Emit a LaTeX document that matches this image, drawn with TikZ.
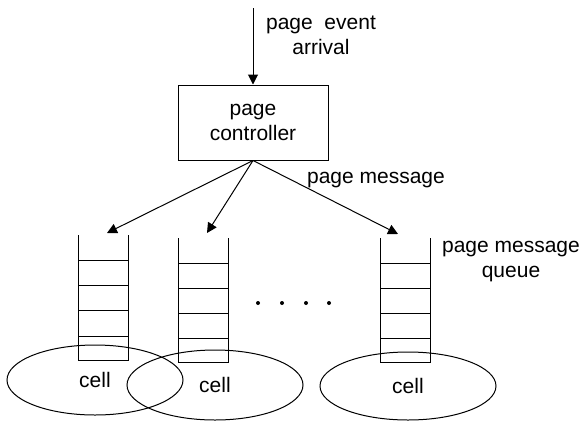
\documentclass[tikz,border=0pt]{standalone}
\usepackage{fontspec}
\setmainfont{Liberation Sans}
\usetikzlibrary{arrows.meta,positioning,shapes.geometric}
\tikzset{
  wire/.style={line width=1pt,black},
  sendarrow/.style={wire,-{Triangle[length=10pt,width=10pt]}},
  ctrlbox/.style={draw,line width=1pt,minimum width=150pt,minimum height=75pt,align=center,inner sep=0pt},
  cellzone/.style={ellipse,draw,line width=1pt,minimum width=176pt,minimum height=70pt,inner sep=0pt},
  lbl/.style={align=center,inner sep=0pt},
  dotmark/.style={circle,fill=black,inner sep=0pt,minimum size=4pt},
}
% left x, top y, list of rung y, bottom y
\newcommand{\pmqueue}[4]{%
  \draw[wire] (#1,#2) -- (#1,#4) -- (#1+50,#4) -- (#1+50,#2);
  \foreach \ly in {#3} \draw[wire] (#1,\ly) -- (#1+50,\ly);
}

\begin{document}
\begin{tikzpicture}[x=1pt,y=-1pt,font=\fontsize{21}{25}\selectfont]
\useasboundingbox (0,0) rectangle (581,421);

\node[ctrlbox] (ctrl) at (253,122.5) {page\\controller};
\coordinate (evsrc) at (253,8);
\draw[sendarrow] (evsrc) -- (ctrl.north);
\node[lbl] (evlbl) at (321,35.5) {page\ \ event\\arrival};

% queues
\pmqueue{78}{235}{260,285,310,336}{360}
\pmqueue{178}{238}{263,288,313,338}{362}
\pmqueue{380}{238}{263,288,313,338}{362}
\coordinate (qAtop) at (107,233);
\coordinate (qBtop) at (207,233);
\coordinate (qCtop) at (398,234);

\draw[sendarrow] (ctrl.south) -- (qAtop);
\draw[sendarrow] (ctrl.south) -- (qBtop);
\draw[sendarrow] (ctrl.south) -- (qCtop);
\node[lbl] (msglbl) at (376,180) {page message};
\node[lbl] (qlbl) at (511,261.5) {page message\\queue};

% the dots
\foreach \dx in {258,282,306,329}
  \node[dotmark] at (\dx,303) {};

% cells
\node[cellzone] (cellA) at (95,380) {cell};
\node[cellzone] (cellB) at (215,385) {cell};
\node[cellzone,minimum height=68pt] (cellC) at (408,386) {cell};
\end{tikzpicture}
\end{document}
